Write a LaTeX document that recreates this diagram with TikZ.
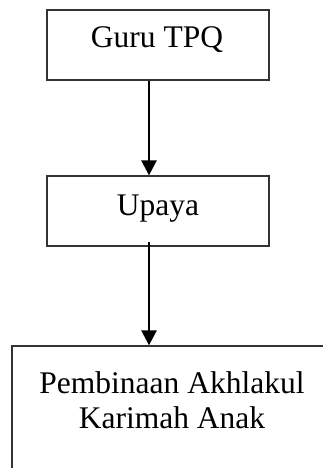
\documentclass[tikz,border=0pt]{standalone}
\usepackage{fontspec}
\setmainfont{Liberation Serif}
\usetikzlibrary{arrows.meta}
\begin{document}
\begin{tikzpicture}[x=1pt,y=-1pt,
  box/.style={draw=black!80,line width=1.3pt,minimum width=222pt,minimum height=70pt,inner sep=0pt},
  lbl/.style={font=\fontsize{31.5}{35}\selectfont,inner sep=0pt,anchor=base,align=center},
  flow/.style={line width=2.6pt,-{Triangle[length=15pt,width=15pt]}}]
\useasboundingbox (0,0) rectangle (323,468);
\clip (0,0) rectangle (323,468);
\node[box] (a) at (158,45) {};
\node[box] (b) at (158,211) {};
\node[box,minimum width=340pt,minimum height=160pt] (c) at (182,426) {};
\node[lbl] (ta) at (157,48) {Guru TPQ};
\node[lbl] (tb) at (158,215) {Upaya};
\node[lbl] (tc) at (172,428) {Pembinaan Akhlakul\\Karimah Anak};
\coordinate (ax) at (149,0);
\draw[flow] (a.south -| ax) -- (b.north -| ax);
\draw[flow] ([yshift=5pt]b.south -| ax) -- (c.north -| ax);
\end{tikzpicture}
\end{document}
